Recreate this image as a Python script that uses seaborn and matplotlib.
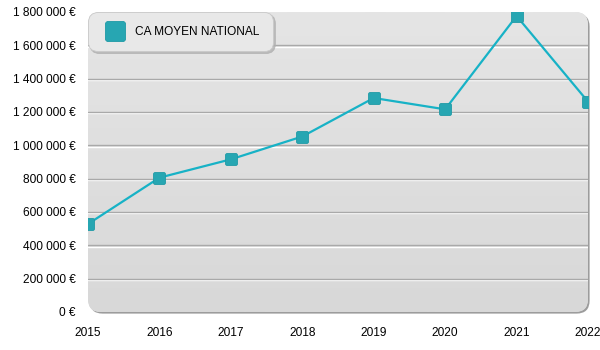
import numpy as np
import pandas as pd
import matplotlib
matplotlib.use("Agg")
import matplotlib.pyplot as plt
import seaborn as sns
from matplotlib.patches import FancyBboxPatch
from matplotlib.path import Path
from matplotlib.lines import Line2D
from matplotlib.ticker import FuncFormatter
import matplotlib.transforms as mtransforms

# Chiffre d'affaires moyen national par année
years = [2015, 2016, 2017, 2018, 2019, 2020, 2021, 2022]
ca_moyen = [528000, 806000, 916000, 1053000, 1284000, 1216000, 1776000, 1262000]
series_label = "CA MOYEN NATIONAL"
y_ticks = [0, 200000, 400000, 600000, 800000, 1000000, 1200000, 1400000, 1600000, 1800000]

LINE_COLOR = "#17b2c6"
MARKER_FACE = "#27a6b2"
MARKER_EDGE = "#1f9aa6"

sns.set_theme(style="white")
plt.rcParams["font.family"] = ["Liberation Sans", "DejaVu Sans"]

df = pd.DataFrame({"annee": years, "ca": ca_moyen})


def rounded_square(r=0.28, n=10):
    pts = []
    for cx, cy, a0 in [(1 - r, 1 - r, 0), (-1 + r, 1 - r, 90),
                       (-1 + r, -1 + r, 180), (1 - r, -1 + r, 270)]:
        for t in np.radians(np.linspace(a0, a0 + 90, n)):
            pts.append((cx + r * np.cos(t), cy + r * np.sin(t)))
    pts.append(pts[0])
    codes = [Path.MOVETO] + [Path.LINETO] * (len(pts) - 2) + [Path.CLOSEPOLY]
    return Path(pts, codes)


marker_path = rounded_square()

fig = plt.figure(figsize=(6, 3.5), dpi=100)
ax = fig.add_axes([88 / 600, 38 / 350, 500 / 600, 300 / 350])
ax.patch.set_visible(False)
for s in ax.spines.values():
    s.set_visible(False)

# Rounded plot panel with a soft shadow and vertical gradient
shadow_off = mtransforms.offset_copy(ax.transAxes, fig=fig, x=1.6, y=-1.6, units="dots")
shadow = FancyBboxPatch((0, 0), 1, 1, boxstyle="round,pad=0,rounding_size=0.026",
                        mutation_aspect=500 / 300, transform=shadow_off,
                        facecolor="#9c9c9c", edgecolor="none", zorder=0, clip_on=False)
ax.add_patch(shadow)
panel = FancyBboxPatch((0, 0), 1, 1, boxstyle="round,pad=0,rounding_size=0.026",
                       mutation_aspect=500 / 300, transform=ax.transAxes,
                       facecolor="#dedede", edgecolor="none", zorder=0.1, clip_on=False)
ax.add_patch(panel)
grad = np.linspace(0, 1, 256).reshape(-1, 1)
cmap = matplotlib.colors.LinearSegmentedColormap.from_list("panel", ["#e5e5e5", "#d8d8d8"])
img = ax.imshow(grad, cmap=cmap, extent=(0, 1, 0, 1), transform=ax.transAxes,
                aspect="auto", zorder=0.2, interpolation="bilinear")
img.set_clip_path(panel)

# Embossed horizontal grid lines
blend = mtransforms.blended_transform_factory(ax.transAxes, ax.transData)
white_off = mtransforms.offset_copy(blend, fig=fig, x=0, y=-1.2, units="dots")
for v in y_ticks[1:-1]:
    ax.plot([0, 1], [v, v], color="#ffffff", lw=1.0, zorder=0.3, transform=white_off)
    ax.plot([0, 1], [v, v], color="#a9a9a9", lw=1.0, zorder=0.4, transform=blend)

sns.lineplot(data=df, x="annee", y="ca", ax=ax, color=LINE_COLOR, linewidth=1.6,
             marker=marker_path, markersize=8.6, markerfacecolor=MARKER_FACE,
             markeredgecolor=MARKER_EDGE, markeredgewidth=0.6, zorder=3, legend=False)

ax.set_xlim(years[0], years[-1])
ax.set_ylim(y_ticks[0], y_ticks[-1])
ax.set_xticks(years)
ax.set_yticks(y_ticks)
ax.yaxis.set_major_formatter(FuncFormatter(lambda v, p: f"{int(v):,}".replace(",", " ") + " €"))
ax.set_xlabel("")
ax.set_ylabel("")
ax.tick_params(axis="both", length=0, labelsize=8.6, colors="#000000")
ax.tick_params(axis="x", pad=10.5)
ax.tick_params(axis="y", pad=9)
ax.grid(False)

handle = Line2D([], [], marker=marker_path, linestyle="none", markersize=14.5,
                markerfacecolor=MARKER_FACE, markeredgecolor=MARKER_EDGE, markeredgewidth=0.6)
leg = ax.legend([handle], [series_label], loc="upper left", bbox_to_anchor=(0, 1),
                borderaxespad=0, fontsize=8.6, borderpad=1.15, handlelength=2.3,
                handletextpad=0.5, frameon=True, fancybox=True,
                shadow={"color": "#b0b0b0", "alpha": 0.8, "ox": 1.5, "oy": -1.5})
for t in leg.get_texts():
    t.set_color("#000000")
frame = leg.get_frame()
frame.set_facecolor("#e8e8e8")
frame.set_edgecolor("#c9c9c9")
frame.set_alpha(1)
frame.set_linewidth(0.6)
frame.set_boxstyle("round,pad=0,rounding_size=0.8")
leg.set_zorder(5)

fig.savefig("out.png", dpi=100)
